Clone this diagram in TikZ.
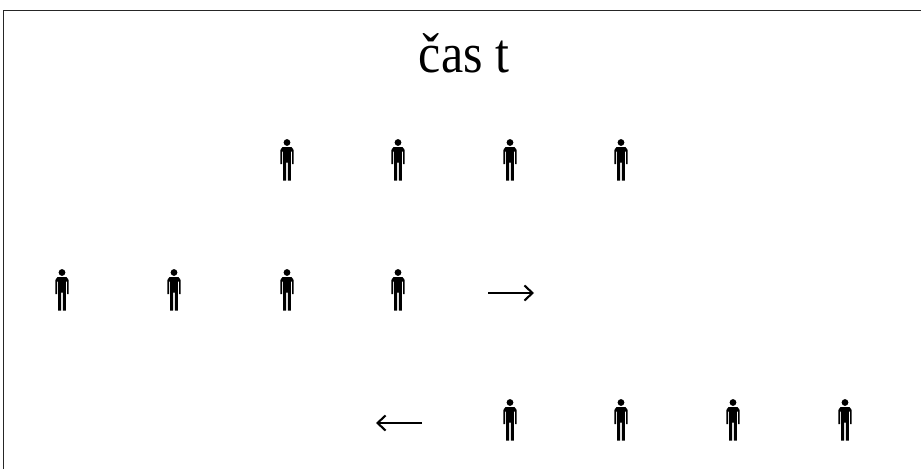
\documentclass[tikz,border=0pt]{standalone}
\usepackage{fontspec}
\usepackage{graphicx}
\setmainfont{Liberation Serif}
\usetikzlibrary{arrows.meta}
\tikzset{
  x=1pt,y=-1pt,
  frameline/.style={draw=black!85,line width=0.8pt},
  flowarrow/.style={draw=black,line width=2.1pt,-{Straight Barb[length=8pt,width=15pt,line width=2.1pt]}},
  person/.pic={
    \fill[black] (0,0) circle (3.4);
    \fill[black] (-6.7,7.5) to[out=-90,in=180] (-4.5,4.6) -- (4.5,4.6) to[out=0,in=-90] (6.7,7.5)
      -- (6.7,21.5) -- (5,21.5) -- (5,9) -- (3.9,9) -- (3.9,38) -- (0.9,38) -- (0.9,20)
      -- (-0.9,20) -- (-0.9,38) -- (-3.9,38) -- (-3.9,9) -- (-5,9) -- (-5,21.5) -- (-6.7,21.5) -- cycle;
  }
}
\begin{document}
\begin{tikzpicture}
\useasboundingbox (0,0) rectangle (921,469);
\fill[white] (0,0) rectangle (921,469);
\coordinate (ftl) at (3.5,10.5);
\coordinate (ftr) at (921,10.5);
\coordinate (fbl) at (3.5,469);
\draw[frameline] (fbl) -- (ftl) -- (ftr);
\node[font=\fontsize{50}{50}\selectfont,anchor=base,inner sep=0pt] (title) at (464,72) {\scalebox{1}[1.12]{čas t}};
\foreach \n/\px/\py in {a/287/142.5,b/398/142.5,c/510/142.5,d/621/142.5,
                        e/62/272.5,f/174/272.5,g/287/272.5,h/398/272.5,
                        i/510/402.5,j/621/402.5,k/733/402.5,l/845/402.5}
  \pic (\n) at (\px,\py) {person};
\coordinate (rs) at (488,293);
\coordinate (re) at (534,293);
\coordinate (ls) at (422,423);
\coordinate (le) at (376,423);
\draw[flowarrow] (rs) -- (re);
\draw[flowarrow] (ls) -- (le);
\end{tikzpicture}
\end{document}
